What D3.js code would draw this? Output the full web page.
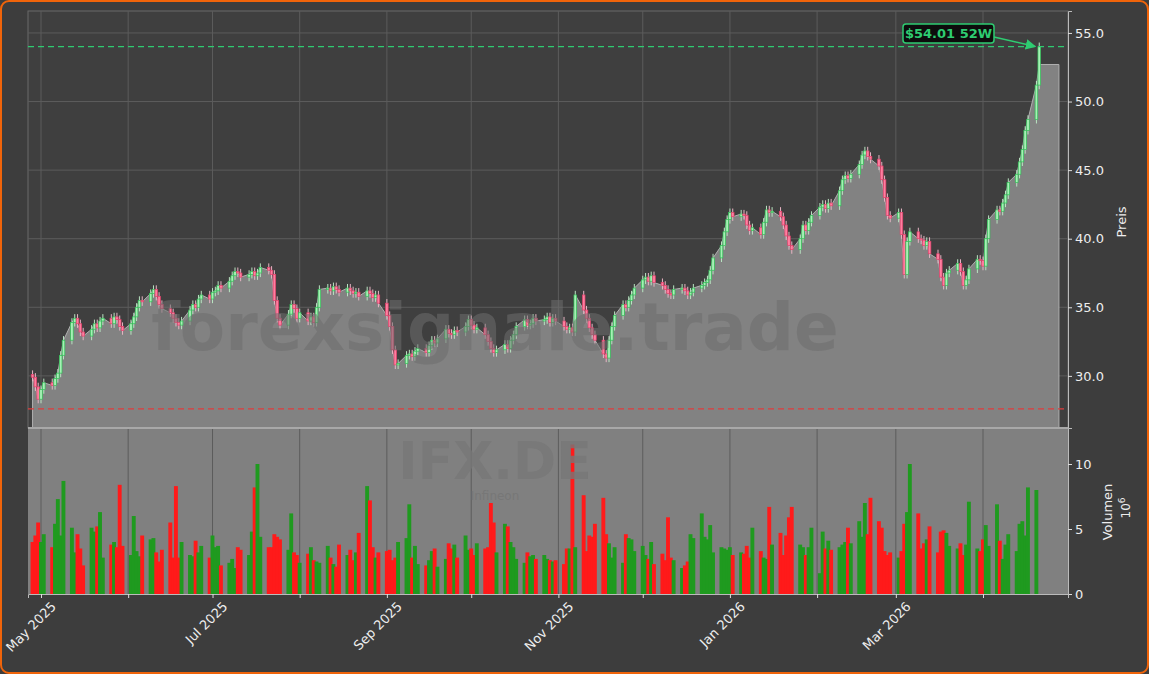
<!DOCTYPE html><html><head><meta charset="utf-8">
<script src="https://cdn.jsdelivr.net/npm/d3@7"></script>
<style>body{margin:0;background:#3d3d3d;}svg{display:block;font-family:"DejaVu Sans",sans-serif;}</style>
</head><body><svg id="c" width="1149" height="674"></svg>
<script>
const startDate = "2025-04-28";
const closes = [29.9,29.2,28.3,29.0,
29.5,29.3,29.8,30.2,31.5,32.6,33.9,34.2,33.8,33.2,32.9,33.4,33.8,33.5,34.0,34.2,33.8,34.3,34.1,33.6,33.3,33.8,
34.3,35.0,35.5,35.4,36.0,36.3,35.8,35.2,34.9,34.6,34.2,33.9,33.7,34.0,34.8,35.2,35.0,35.6,35.9,35.6,36.1,
36.2,36.6,36.4,36.9,37.3,37.6,37.5,37.2,37.4,37.6,37.3,37.5,37.9,37.7,37.4,35.5,34.2,33.7,34.5,35.2,34.9,34.2,34.6,
34.0,34.3,33.9,35.0,36.3,36.4,36.2,36.5,36.3,36.1,36.4,36.2,36.0,36.1,35.8,36.2,36.0,35.7,35.9,35.3,34.4,
33.6,31.9,30.8,30.9,31.5,31.6,31.4,31.8,32.0,31.7,32.2,32.6,32.4,32.7,33.4,33.1,33.0,33.3,33.2,33.6,34.1,33.7,
33.4,33.5,33.0,32.5,32.0,31.7,31.9,32.3,32.0,32.6,33.0,33.6,34.1,33.7,33.8,34.2,34.0,34.1,34.3,33.9,34.2,34.0,33.6,
33.4,33.5,33.2,35.9,34.8,34.2,33.5,33.0,32.6,31.6,31.3,32.6,33.6,34.4,35.2,35.0,35.5,35.9,36.4,37.0,
37.2,36.9,37.3,36.8,36.6,36.3,36.0,35.9,36.3,36.4,36.2,35.9,36.1,36.4,36.6,36.8,37.0,37.7,38.6,39.5,40.5,
41.4,41.9,41.6,41.8,41.7,41.0,40.6,40.8,40.3,41.2,42.1,41.9,42.0,41.6,41.0,40.2,39.5,39.2,40.0,41.0,40.6,41.2,
41.7,42.3,42.5,42.2,42.6,42.4,43.5,44.3,44.6,44.4,44.7,45.4,46.1,46.4,46.0,45.8,45.3,44.3,43.0,41.7,
41.5,41.9,40.3,37.4,39.8,40.5,40.0,39.9,39.5,39.8,38.9,38.5,37.2,36.6,37.5,37.7,38.2,37.6,36.6,37.0,37.8,38.5,
38.4,38.0,40.0,41.4,42.1,42.0,42.6,43.2,44.1,44.7,45.6,46.5,47.9,48.7,51.2,54.0];
const volumes = [4.0,4.5,5.5,4.0,
4.6,3.6,5.4,7.3,4.5,8.7,5.1,3.2,4.6,3.5,2.2,5.1,4.8,5.2,6.3,2.8,3.8,4.0,3.6,8.4,3.7,3.0,
6.0,3.3,2.9,4.5,4.2,4.3,3.2,2.5,3.4,5.5,2.8,8.3,2.8,4.0,3.0,2.9,4.1,3.2,3.7,2.8,4.5,
3.6,3.7,2.2,2.4,2.7,2.0,3.6,3.4,3.0,4.8,8.2,10.0,4.4,3.6,3.6,4.6,4.4,4.2,3.4,6.2,3.2,3.0,
2.4,3.1,3.6,2.6,2.5,2.4,3.7,2.8,2.3,2.1,3.8,3.0,3.4,2.6,3.2,4.7,8.3,7.2,3.6,2.8,3.2,
3.3,3.4,2.6,2.8,4.0,4.3,6.9,2.8,3.7,2.3,2.2,2.6,3.3,3.5,2.1,2.7,3.9,3.5,3.8,2.8,4.5,3.4,
3.5,3.0,3.9,3.5,3.6,7.0,5.5,3.2,5.4,5.2,4.0,3.6,2.7,2.4,3.2,2.9,3.0,2.7,3.0,2.7,2.6,2.5,2.6,
2.3,3.5,3.5,11.5,3.6,7.6,3.3,4.5,4.4,5.4,7.4,4.6,3.9,2.8,3.6,2.4,4.6,4.3,4.2,3.3,
3.7,3.0,2.7,4.0,2.3,3.1,2.6,5.9,2.8,2.6,2.0,2.2,2.5,4.6,4.3,6.2,4.4,4.2,5.3,3.2,3.6,
3.5,3.4,3.6,3.0,3.2,3.1,3.7,2.8,5.1,3.3,2.8,2.7,6.7,3.8,4.7,3.0,4.5,5.9,6.7,3.8,3.6,3.0,
3.6,5.1,1.6,4.8,3.5,4.1,3.4,3.6,3.8,4.0,5.1,3.9,5.6,4.4,7.0,4.6,7.4,5.6,5.1,3.3,
3.0,3.2,2.8,3.3,5.4,6.3,10.0,6.2,3.5,3.9,4.2,5.2,3.2,4.8,4.9,4.7,3.7,3.5,3.9,3.0,3.8,7.1,
3.5,3.3,4.2,5.3,3.7,6.9,4.1,2.7,3.8,4.6,3.3,5.4,5.6,4.5,8.2,8.0];
const priceTicks = [30,35,40,45,50,55];
const volTicks = [0,5,10];
const high52 = 54.01, low52 = 27.6, areaTailValue = 52.7;

const dates = [];
{ let d = new Date(startDate+"T00:00:00"); while (dates.length < closes.length) { const w=d.getDay(); if (w!==0&&w!==6) dates.push(new Date(d)); d = d3.timeDay.offset(d,1);} }
const opens = closes.map((c,i)=> i===0 ? 30.1 : closes[i-1]);

const svg = d3.select("#c");
svg.append("rect").attr("x",1).attr("y",1).attr("width",1147).attr("height",672).attr("rx",8).attr("fill","#3d3d3d").attr("stroke","#f0640a").attr("stroke-width",2);

const L=28,R=1068,PT=11,PB=428,VT=428,VB=594;
const x = d3.scaleTime();
{ const a=new Date("2025-05-01"), b=new Date("2026-04-01"); const k=(983-41)/(b-a);
  x.domain([new Date(+a-(41-L)/k), new Date(+a+(R-41)/k)]).range([L,R]); }
const y = d3.scaleLinear().domain([26.2,56.6]).range([PB,PT]);
const yv = d3.scaleLinear().domain([0,12.77]).range([VB,VT]);

svg.append("defs").append("clipPath").attr("id","cp").append("rect").attr("x",L).attr("y",PT).attr("width",R-L).attr("height",VB-PT);
svg.append("rect").attr("x",L).attr("y",PT).attr("width",R-L).attr("height",PB-PT).attr("fill","#3f3f3f").attr("stroke","#6a6a6a");
svg.append("rect").attr("x",L).attr("y",VT).attr("width",R-L).attr("height",VB-VT).attr("fill","#808080");

const months = d3.timeMonth.range(new Date("2025-05-01"), new Date("2026-04-02"));
const g = svg.append("g");
g.selectAll("line.v").data(months).join("line").attr("x1",d=>x(d)).attr("x2",d=>x(d)).attr("y1",PT).attr("y2",VB).attr("stroke","#5c5c5c").attr("stroke-width",1);
g.selectAll("line.h").data(priceTicks).join("line").attr("x1",L).attr("x2",R).attr("y1",d=>y(d)).attr("y2",d=>y(d)).attr("stroke","#5c5c5c");

const plot = svg.append("g").attr("clip-path","url(#cp)");
const last = dates[dates.length-1];
const areaData = closes.map((c,i)=>({d:dates[i],v: i===closes.length-1?areaTailValue:c}));
areaData.push({d:d3.timeDay.offset(last,7),v:areaTailValue});
plot.append("path").datum(areaData).attr("fill","#828282").attr("stroke","#b0b0b0").attr("stroke-width",1)
 .attr("d",d3.area().x(d=>x(d.d)).y0(PB).y1(d=>y(d.v)));

svg.append("text").attr("x",495).attr("y",350).attr("text-anchor","middle").attr("font-size",66).attr("font-weight","bold").attr("fill","#6e6e6e").attr("fill-opacity",0.55).text("forexsignale.trade");
svg.append("text").attr("x",495).attr("y",479).attr("text-anchor","middle").attr("font-size",52).attr("font-weight","bold").attr("fill","#777").attr("fill-opacity",0.8).text("IFX.DE");
svg.append("text").attr("x",495).attr("y",500).attr("text-anchor","middle").attr("font-size",12).attr("fill","#777").text("Infineon");

svg.append("line").attr("x1",L).attr("x2",R).attr("y1",y(high52)).attr("y2",y(high52)).attr("stroke","#2ecc71").attr("stroke-dasharray","6,4").attr("stroke-width",1.3);
svg.append("line").attr("x1",L).attr("x2",R).attr("y1",y(low52)).attr("y2",y(low52)).attr("stroke","#e03c3c").attr("stroke-dasharray","6,4").attr("stroke-width",1.3);

const bw=2.6;
closes.forEach((c,i)=>{
  const o=opens[i], up=c>=o, xx=x(dates[i]);
  const hi=Math.max(o,c)+0.3, lo=Math.min(o,c)-0.3;
  plot.append("line").attr("x1",xx).attr("x2",xx).attr("y1",y(hi)).attr("y2",y(lo)).attr("stroke",up?"#b9e6c2":"#e8b4c4").attr("stroke-width",1);
  plot.append("rect").attr("x",xx-bw/2).attr("y",y(Math.max(o,c))).attr("width",bw).attr("height",Math.max(1,Math.abs(y(o)-y(c))))
    .attr("fill",up?"#a6f0b5":"#ff7ea0").attr("stroke",up?"#2fbf55":"#e0406a").attr("stroke-width",0.7);
});

plot.append("g").selectAll("rect").data(volumes).join("rect")
 .attr("x",(v,i)=>x(dates[i])-2).attr("width",3.9).attr("y",v=>yv(v)).attr("height",v=>VB-yv(v))
 .attr("fill",(v,i)=>closes[i]>=opens[i]?"#1f9a1f":"#ff1a1a");
svg.append("line").attr("x1",L).attr("x2",R).attr("y1",VT).attr("y2",VT).attr("stroke","#a8a8a8").attr("stroke-width",2);

const ax = svg.append("g").attr("transform",`translate(${R},0)`);
ax.call(d3.axisRight(y).tickValues(priceTicks).tickFormat(d3.format(".1f")).tickSize(4));
const av = svg.append("g").attr("transform",`translate(${R},0)`);
av.call(d3.axisRight(yv).tickValues(volTicks).tickSize(4));
[ax,av].forEach(a=>{a.select(".domain").attr("stroke","#bbb");a.selectAll("line").attr("stroke","#ddd");a.selectAll("text").attr("fill","#eee").attr("font-size",13).attr("font-family","DejaVu Sans");});
const bx = svg.append("g").attr("transform",`translate(0,${VB})`).call(d3.axisBottom(x).tickValues(months).tickSize(4).tickFormat(d=>d.getMonth()%2===0?d3.timeFormat("%b %Y")(d):""));
bx.select(".domain").attr("stroke","#bbb");bx.selectAll("line").attr("stroke","#ddd");
bx.selectAll("text").attr("fill","#eee").attr("font-size",13).attr("font-family","DejaVu Sans").attr("text-anchor","end").attr("transform","translate(4,2) rotate(-45)").attr("dy","0.7em");

svg.append("text").attr("transform","translate(1126,222) rotate(-90)").attr("text-anchor","middle").attr("fill","#eee").attr("font-size",13).text("Preis");
svg.append("text").attr("transform","translate(1112,512) rotate(-90)").attr("text-anchor","middle").attr("fill","#eee").attr("font-size",13).text("Volumen");
const t6=svg.append("text").attr("transform","translate(1130,508) rotate(-90)").attr("text-anchor","middle").attr("fill","#eee").attr("font-size",12);
t6.append("tspan").text("10");t6.append("tspan").attr("dy",-5).attr("font-size",9).text("6");

const lx=x(last), ly=y(high52);
svg.select("defs").append("marker").attr("id","ar").attr("viewBox","0 0 10 10").attr("refX",9).attr("refY",5).attr("markerWidth",7).attr("markerHeight",7).attr("orient","auto")
 .append("path").attr("d","M0,0L10,5L0,10z").attr("fill","#2ecc71");
svg.append("line").attr("x1",994).attr("y1",37).attr("x2",lx-4).attr("y2",ly).attr("stroke","#2ecc71").attr("stroke-width",1.5).attr("marker-end","url(#ar)");
svg.append("rect").attr("x",903).attr("y",24).attr("width",91).attr("height",19).attr("rx",3).attr("fill","#0d0d0d").attr("stroke","#2ecc71").attr("stroke-width",1.5);
svg.append("text").attr("x",948.5).attr("y",38).attr("text-anchor","middle").attr("fill","#2ecc71").attr("font-size",13).attr("font-weight","bold").text("$54.01 52W");
</script></body></html>
